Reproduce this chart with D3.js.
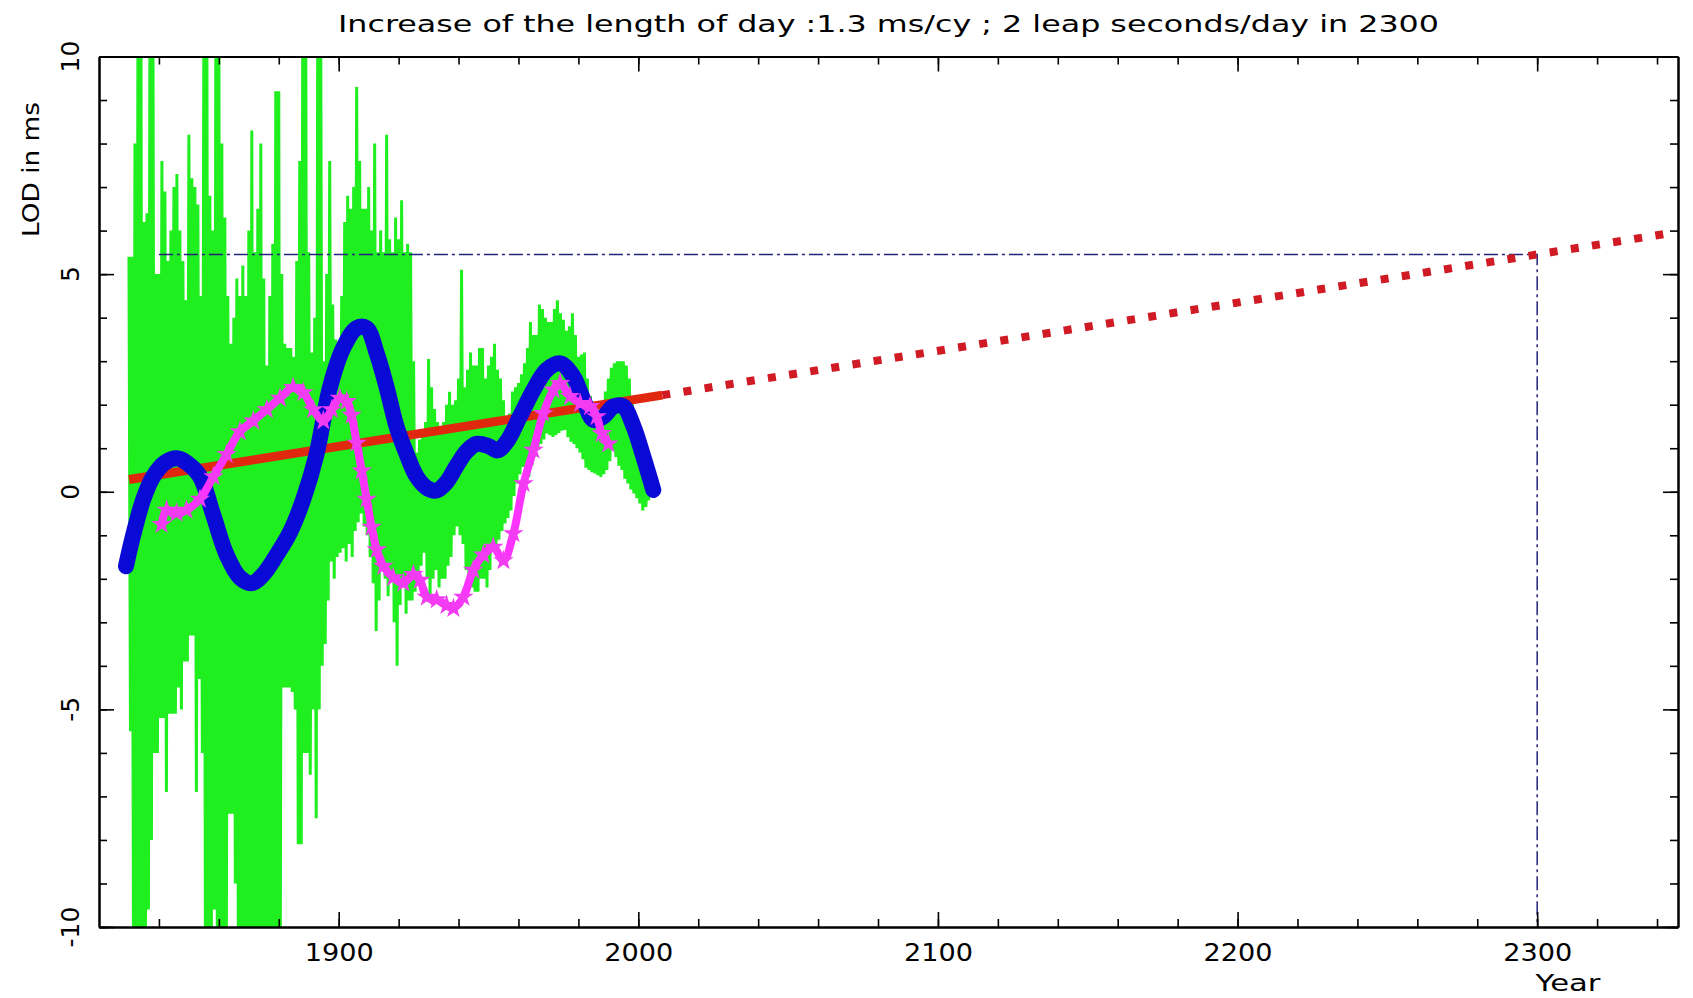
<!DOCTYPE html>
<html><head><meta charset="utf-8">
<script src="https://cdn.jsdelivr.net/npm/d3@7"></script>
<style>
body{margin:0;background:#fff}
svg{display:block}
text{font-family:"DejaVu Sans",sans-serif;fill:#000}
</style>
</head><body>
<svg id="c" width="1693" height="998"></svg>
<script>
// ---------------- data ----------------
const titleText = "Increase of the length of day :1.3 ms/cy ; 2 leap seconds/day in 2300";
const yTitle = "LOD in ms";
const xTitle = "Year";

const xMajorTicks = [1900, 2000, 2100, 2200, 2300];
const xMinorTicks = [1840,1860,1880,1900,1920,1940,1960,1980,2000,2020,2040,2060,2080,2100,2120,2140,2160,2180,2200,2220,2240,2260,2280,2300,2320,2340];
const yMajorTicks = [-10, -5, 0, 5, 10];
const yMinorTicks = [-10,-9,-8,-7,-6,-5,-4,-3,-2,-1,0,1,2,3,4,5,6,7,8,9,10];
const yTickLabels = ["-10", "-5", "0", "5", "10"];

// observed LOD (green): yearly upper and lower swings, 1830 .. 2003
const greenStartYear = 1830;
const greenHigh = [
 5.4,5.4,8,11,11,6.2,6.4,11,11,5.0,
 5.0,7.6,6.9,5.3,6.0,7.0,7.3,6.0,5.3,4.4,
 8.2,7.2,7.0,6.6,4.5,11,11,6.8,6.0,11,
 11,8,6.3,4.5,3.4,4.0,4.9,4.5,5.2,4.5,
 6.0,8.3,5.5,6.5,8.0,4.9,2.9,4.5,5.7,9.2,
 9.2,5.0,3.4,3.3,3.3,3.1,5.3,7.6,11,11,
 5.5,3.2,4.0,11,11,3.0,5.0,7.6,4.3,3.5,
 3.3,4.5,6.2,6.8,6.5,7.0,9.3,7.6,6.5,6.5,
 7.0,6.0,8.0,5.5,6.0,5.5,8.2,5.8,5.5,6.3,
 5.8,6.7,5.5,5.7,5.5,3.0,0.9,1.2,1.4,1.6,
 3.05,2.4,1.9,1.6,1.4,1.6,2.0,2.3,2.0,2.1,
 2.6,5.1,2.4,2.8,3.2,2.9,2.9,3.3,3.3,2.6,
 2.9,3.1,3.4,2.8,2.6,2.1,1.6,1.8,2.3,2.4,
 2.5,2.7,2.95,3.3,3.9,3.6,3.6,4.3,4.2,4.0,
 3.9,3.9,4.2,4.4,4.1,3.95,3.7,3.8,4.1,3.6,
 3.1,3.15,3.2,2.6,2.2,1.95,1.85,1.75,2.0,2.3,
 2.6,2.85,2.95,3.0,3.0,3.0,2.9,2.6,2.1,1.6,
 1.2,0.8,0.5,0.2
];
const greenLow = [
 -5.5,-10.5,-10.5,-10.5,-10.5,-10.5,-9.6,-8.0,-6.0,-6.0,
 -5.2,-5.2,-6.9,-5.1,-5.1,-5.1,-4.5,-5.0,-3.9,-3.9,
 -3.3,-3.3,-6.9,-4.3,-6.0,-10.5,-10.5,-10.5,-9.6,-10.5,
 -10.5,-10.5,-10.5,-7.4,-7.4,-9.0,-10.5,-10.5,-10.5,-10.5,
 -10.5,-10.5,-10.5,-10.5,-10.5,-10.5,-10.5,-10.5,-10.5,-10.5,
 -10.5,-4.5,-4.5,-4.5,-4.6,-5.0,-8.1,-8.1,-6.0,-6.0,
 -6.5,-5.0,-7.5,-5.0,-4.0,-3.5,-2.5,-1.6,-2.0,-1.5,
 -1.4,-1.3,-1.6,-1.2,-1.5,-0.9,-0.7,-0.5,-0.8,-1.0,
 -1.5,-2.1,-3.2,-2.5,-1.8,-2.0,-2.4,-2.0,-3.0,-4.0,
 -2.6,-2.2,-2.8,-2.5,-2.5,-2.3,-2.0,-1.7,-1.4,-2.0,
 -2.4,-2.0,-1.8,-2.2,-2.0,-2.0,-1.7,-1.5,-1.0,-0.8,
 -1.0,-1.2,-1.8,-2.2,-2.2,-2.3,-2.3,-2.0,-2.0,-2.2,
 -1.8,-1.35,-1.2,-1.1,-0.9,-0.73,-0.6,-0.43,-0.1,0.19,
 0.4,0.57,0.5,0.34,0.6,0.8,0.96,1.1,1.2,1.34,
 1.3,1.26,1.3,1.35,1.4,1.42,1.25,1.15,1.1,1.0,
 0.9,0.75,0.55,0.5,0.45,0.42,0.38,0.34,0.4,0.5,
 0.7,0.96,0.8,0.6,0.5,0.3,0.19,0.05,-0.04,-0.15,
 -0.27,-0.43,-0.35,-0.2
];

// smoothed LOD (blue)
const blueYears = [1829,1831.4,1834.8,1838.1,1842,1846,1849.2,1853.7,1858.2,1862.6,1867,1871,1874.8,1879.3,1883.7,1888.2,1892.6,1897.1,1901.5,1906,1909.3,1912.7,1916,1919.3,1922.7,1926,1929.4,1932.7,1936,1939.4,1942.7,1946,1950,1953,1956.1,1960.5,1965,1969.4,1973.9,1978.3,1981.7,1985,1988.4,1991.7,1995,1998.4,2001.7,2005];
const blueVals  = [-1.71,-1.0,-0.17,0.35,0.67,0.77,0.67,0.35,-0.55,-1.45,-1.97,-2.1,-1.9,-1.45,-0.94,-0.17,0.86,2.4,3.3,3.76,3.76,3.18,2.4,1.5,0.86,0.35,0.09,0.03,0.22,0.6,0.93,1.1,1.05,0.95,1.15,1.73,2.34,2.8,2.95,2.65,2.11,1.65,1.73,1.96,1.96,1.5,0.8,0.04];

// second series (magenta stars)
const magentaYears = [1840.9,1842.6,1845.9,1849.2,1853.7,1858.2,1862.6,1867,1871.5,1876,1880.4,1884.8,1888.2,1891.5,1894.9,1897.7,1900.4,1902.7,1904.3,1906,1907.7,1909.3,1911,1912.7,1914.9,1918.2,1921.6,1924.9,1927.1,1929.4,1932.7,1936,1938.3,1941.6,1944.9,1948.3,1951.6,1955,1958.3,1961.7,1965,1968.3,1971.7,1973.9,1977.2,1980.6,1983.9,1986.1,1987.8,1990];
const magentaVals  = [-0.75,-0.42,-0.49,-0.42,-0.17,0.35,0.86,1.38,1.63,1.89,2.15,2.4,2.28,1.89,1.63,1.89,2.15,2.08,1.76,1.12,0.48,-0.17,-0.81,-1.33,-1.71,-1.97,-2.1,-1.9,-2.03,-2.42,-2.48,-2.61,-2.68,-2.42,-1.8,-1.45,-1.27,-1.58,-0.96,0.19,0.96,1.8,2.34,2.49,2.19,2.03,1.96,1.73,1.34,1.1];

// linear trend (red) and its extrapolation
const trendYears = [1830, 2008];
const trendVals  = [0.28, 2.22];
const projYears  = [2008, 2345];
const projVals   = [2.22, 5.95];

// guide lines at 2300
const guideYears = [1840, 2300, 2300];
const guideVals  = [5.45, 5.45, -10];

// ---------------- layout ----------------
const svg = d3.select("#c");
const M = {left: 99, right: 1678, top: 56.5, bottom: 927};
const x = d3.scaleLinear().domain([1820, 2347]).range([M.left, M.right]);
const y = d3.scaleLinear().domain([-10, 10]).range([M.bottom, M.top]);

svg.append("defs").append("clipPath").attr("id", "clip")
  .append("rect").attr("x", M.left).attr("y", M.top)
  .attr("width", M.right - M.left).attr("height", M.bottom - M.top);

const plot = svg.append("g").attr("clip-path", "url(#clip)");

// green zigzag
const greenPts = [];
greenHigh.forEach((h, i) => {
  greenPts.push([greenStartYear + i, h]);
  greenPts.push([greenStartYear + i + 0.5, greenLow[i]]);
});
const line = d3.line().x(d => x(d[0])).y(d => y(d[1]));
plot.append("path").datum(greenPts).attr("d", line)
  .attr("fill", "none").attr("stroke", "#1fee1f").attr("stroke-width", 3)
  .attr("stroke-linejoin", "bevel");

// guides
plot.append("path").datum(guideYears.map((t, i) => [t, guideVals[i]])).attr("d", line)
  .attr("fill", "none").attr("stroke", "#23237a").attr("stroke-width", 1.5)
  .attr("stroke-dasharray", "14,4,3,4");

// red trend
plot.append("path").datum(trendYears.map((t, i) => [t, trendVals[i]])).attr("d", line)
  .attr("fill", "none").attr("stroke", "#e0280f").attr("stroke-width", 9);
plot.append("path").datum(projYears.map((t, i) => [t, projVals[i]])).attr("d", line)
  .attr("fill", "none").attr("stroke", "#d01a24").attr("stroke-width", 8)
  .attr("stroke-dasharray", "8,13.4");

// blue smooth
const curve = d3.line().x(d => x(d[0])).y(d => y(d[1])).curve(d3.curveCatmullRom.alpha(0.5));
plot.append("path").datum(blueYears.map((t, i) => [t, blueVals[i]])).attr("d", curve)
  .attr("fill", "none").attr("stroke", "#0a0ad6").attr("stroke-width", 16)
  .attr("stroke-linecap", "round").attr("stroke-linejoin", "round");

// magenta stars
const magPts = magentaYears.map((t, i) => [t, magentaVals[i]]);
plot.append("path").datum(magPts).attr("d", curve)
  .attr("fill", "none").attr("stroke", "#ff33ff").attr("stroke-width", 8)
  .attr("stroke-linecap", "round");
const star = d3.symbol().type(d3.symbolStar).size(130);
plot.selectAll("path.star").data(magPts).join("path").attr("class", "star")
  .attr("d", star).attr("transform", d => `translate(${x(d[0])},${y(d[1])})`)
  .attr("fill", "#f23cf2");

// ---------------- axes ----------------
function styleAxis(g) {
  g.select(".domain").attr("stroke", "#000").attr("stroke-width", 2);
  g.selectAll(".tick line").attr("stroke", "#000").attr("stroke-width", 1.6);
}
const none = () => "";
// bottom
svg.append("g").attr("transform", `translate(0,${M.bottom})`)
  .call(d3.axisBottom(x).tickValues(xMinorTicks).tickSizeInner(-8).tickSizeOuter(0).tickFormat(none)).call(styleAxis);
const bMaj = svg.append("g").attr("transform", `translate(0,${M.bottom})`)
  .call(d3.axisBottom(x).tickValues(xMajorTicks).tickSizeInner(-15).tickSizeOuter(0).tickPadding(16).tickFormat(d3.format("d")))
  .call(styleAxis);
bMaj.selectAll("text").attr("font-size", 25).attr("font-family", "DejaVu Sans")
  .attr("textLength", 69).attr("lengthAdjust", "spacingAndGlyphs");
// top
svg.append("g").attr("transform", `translate(0,${M.top})`)
  .call(d3.axisTop(x).tickValues(xMinorTicks).tickSizeInner(-8).tickSizeOuter(0).tickFormat(none)).call(styleAxis);
svg.append("g").attr("transform", `translate(0,${M.top})`)
  .call(d3.axisTop(x).tickValues(xMajorTicks).tickSizeInner(-15).tickSizeOuter(0).tickFormat(none)).call(styleAxis);
// left
svg.append("g").attr("transform", `translate(${M.left},0)`)
  .call(d3.axisLeft(y).tickValues(yMinorTicks).tickSizeInner(-8).tickSizeOuter(0).tickFormat(none)).call(styleAxis);
svg.append("g").attr("transform", `translate(${M.left},0)`)
  .call(d3.axisLeft(y).tickValues(yMajorTicks).tickSizeInner(-15).tickSizeOuter(0).tickFormat(none)).call(styleAxis);
// right
svg.append("g").attr("transform", `translate(${M.right},0)`)
  .call(d3.axisRight(y).tickValues(yMinorTicks).tickSizeInner(-8).tickSizeOuter(0).tickFormat(none)).call(styleAxis);
svg.append("g").attr("transform", `translate(${M.right},0)`)
  .call(d3.axisRight(y).tickValues(yMajorTicks).tickSizeInner(-15).tickSizeOuter(0).tickFormat(none)).call(styleAxis);

// rotated y tick labels
svg.append("g").selectAll("text").data(yMajorTicks).join("text")
  .attr("transform", d => `translate(79,${y(d)}) rotate(-90)`)
  .attr("text-anchor", "middle").attr("font-size", 25)
  .text((d, i) => yTickLabels[i]);

// titles
svg.append("text").attr("x", (M.left + M.right) / 2).attr("y", 32)
  .attr("text-anchor", "middle").attr("font-size", 23)
  .attr("textLength", 1101).attr("lengthAdjust", "spacingAndGlyphs")
  .text(titleText);
svg.append("text").attr("transform", "translate(39,169.5) rotate(-90)")
  .attr("text-anchor", "middle").attr("font-size", 23)
  .attr("textLength", 135).attr("lengthAdjust", "spacingAndGlyphs")
  .text(yTitle);
svg.append("text").attr("x", 1568).attr("y", 991)
  .attr("text-anchor", "middle").attr("font-size", 23)
  .attr("textLength", 65).attr("lengthAdjust", "spacingAndGlyphs")
  .text(xTitle);
</script>
</body></html>
